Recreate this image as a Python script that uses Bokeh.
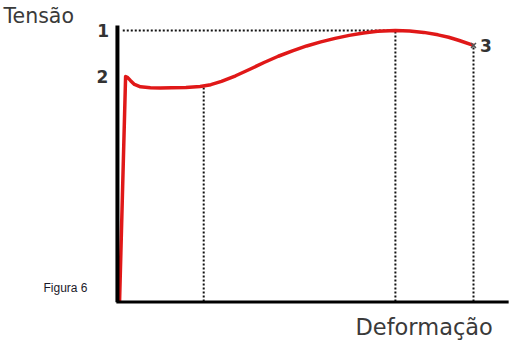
from bokeh.plotting import figure
from bokeh.models import Range1d, Label
from bokeh.core.properties import value
from bokeh.embed import file_html
from bokeh.resources import INLINE

# Normalised units: strain 1.0 = point 3, stress 1.0 = point 1
curve_strain = [0.003, 0.020, 0.026, 0.034, 0.045, 0.062, 0.090, 0.118, 0.150, 0.190,
                0.230, 0.260, 0.290, 0.330, 0.370, 0.410, 0.450, 0.490, 0.530, 0.570,
                0.610, 0.650, 0.690, 0.730, 0.780, 0.820, 0.860, 0.900, 0.930, 0.960, 1.000]
curve_stress = [0.000, 0.830, 0.826, 0.815, 0.801, 0.792, 0.789, 0.788, 0.789, 0.790,
                0.793, 0.800, 0.812, 0.833, 0.857, 0.882, 0.905, 0.925, 0.943, 0.958,
                0.971, 0.982, 0.991, 0.997, 1.000, 0.998, 0.993, 0.984, 0.975, 0.963, 0.945]

point_labels = ["1", "2", "3"]
point_strain = [0.780, 0.020, 1.000]
point_stress = [1.000, 0.830, 0.945]
yield_end_strain = 0.240
yield_end_stress = 0.795

axis_strain_max = 1.099
axis_stress_max = 1.018

x_title = "Deformação"
y_title = "Tensão"
caption = "Figura 6"

p = figure(width=514, height=342, output_backend="svg", toolbar_location=None,
           x_axis_type=None, y_axis_type=None, min_border=0,
           x_range=Range1d(-118/355, 396/355), y_range=Range1d(-41/271, 301/271))
p.grid.visible = False
p.outline_line_color = None
p.background_fill_color = "white"

dot = dict(line_color="#111111", line_width=2, line_dash="2 2")
# dotted guide lines
p.line([0.012, point_strain[0]], [1.0, 1.0], **dot)
p.line([point_strain[0], point_strain[0]], [0, 1.0], **dot)
p.line([yield_end_strain, yield_end_strain], [0, yield_end_stress], **dot)
p.line([point_strain[2], point_strain[2]], [0, point_stress[2]], **dot)

# curve
p.line(curve_strain, curve_stress, line_color="#e01818", line_width=3.5, line_join="round")

# axes
p.line([-0.003, -0.003], [-0.003, axis_stress_max], line_color="black", line_width=4)
p.line([-0.006, axis_strain_max], [-0.002, -0.002], line_color="black", line_width=3)

# x marker at point 3
p.scatter([point_strain[2]], [point_stress[2]], marker="x", size=7, line_color="#555555", line_width=1.5)

# point labels
p.text([-0.043, -0.045, 1.035], [1.0, 0.83, 0.945], text=point_labels, text_font_size="17px",
       text_color="#333333", text_align="center", text_baseline="middle",
       text_font_style="bold", text_font=value("DejaVu Sans"))

p.add_layout(Label(x=-118/355 + 3/355, y=(301-15)/271, text=y_title, text_font="DejaVu Sans",
                   text_font_size="20.5px", text_color="#3a3a3a", text_baseline="middle"))
p.add_layout(Label(x=(355-118)/355, y=(301-326)/271, text=x_title, text_font="DejaVu Sans",
                   text_font_size="22.5px", text_color="#3a3a3a", text_baseline="middle"))
p.add_layout(Label(x=(43-118)/355, y=(301-287)/271, text=caption, text_font="Liberation Sans",
                   text_font_size="12px", text_color="#1a1a2a", text_baseline="middle"))

open("out.html", "w").write(file_html(p, INLINE))
